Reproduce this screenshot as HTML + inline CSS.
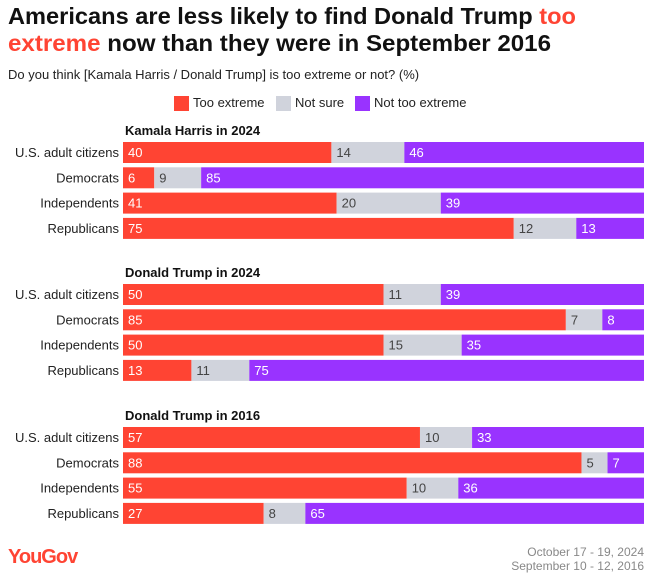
<!DOCTYPE html>
<html><head><meta charset="utf-8">
<style>
body{margin:0;background:#fff;width:653px;height:580px;overflow:hidden;font-family:"Liberation Sans",sans-serif}
</style></head>
<body>
<svg width="653" height="580" xmlns="http://www.w3.org/2000/svg" font-family="Liberation Sans, sans-serif">
<text x="8" y="24" font-size="23.5" font-weight="bold" fill="#111" textLength="568" lengthAdjust="spacingAndGlyphs">Americans are less likely to find Donald Trump <tspan fill="#ff4433">too</tspan></text>
<text x="8" y="51" font-size="23.5" font-weight="bold" fill="#111" textLength="543" lengthAdjust="spacingAndGlyphs"><tspan fill="#ff4433">extreme</tspan> now than they were in September 2016</text>
<text x="8" y="79" font-size="13" fill="#222">Do you think [Kamala Harris / Donald Trump] is too extreme or not? (%)</text>
<g>
<rect x="174" y="96" width="15" height="15" fill="#ff4433"/>
<text x="193" y="107" font-size="13" fill="#222">Too extreme</text>
<rect x="276" y="96" width="15" height="15" fill="#d0d3dc"/>
<text x="295" y="107" font-size="13" fill="#222">Not sure</text>
<rect x="355" y="96" width="15" height="15" fill="#9933ff"/>
<text x="374" y="107" font-size="13" fill="#222">Not too extreme</text>
</g>
<g id="bars"></g>
<text x="8" y="563" font-size="20" font-weight="bold" fill="#ff4433" letter-spacing="-1">YouGov</text>
<text x="644" y="556" font-size="12" fill="#888" text-anchor="end">October 17 - 19, 2024</text>
<text x="644" y="570" font-size="12" fill="#888" text-anchor="end">September 10 - 12, 2016</text>
</svg>
<script>
const groups = ["Kamala Harris in 2024","Donald Trump in 2024","Donald Trump in 2016"];
const categories = ["U.S. adult citizens","Democrats","Independents","Republicans"];
const tooExtreme = [[40,6,41,75],[50,85,50,13],[57,88,55,27]];
const notSure = [[14,9,20,12],[11,7,15,11],[10,5,10,8]];
const notTooExtreme = [[46,85,39,13],[39,8,35,75],[33,7,36,65]];
const colors = ["#ff4433","#d0d3dc","#9933ff"];
const names = ["too-extreme","not-sure","not-too-extreme"];
const NS="http://www.w3.org/2000/svg";
const g=document.getElementById('bars');
const x0=123,x1=644,groupTop=[142,284,427],pitch=25.3,bh=21;
function xs(v,tot){return v/tot*(x1-x0);}
function mk(t,a){const e=document.createElementNS(NS,t);for(const k in a)e.setAttribute(k,a[k]);g.appendChild(e);return e;}
groups.forEach((gn,gi)=>{
  const t=mk('text',{x:x0+2,y:groupTop[gi]-7,'font-size':13,'font-weight':'bold',fill:'#111'});
  t.textContent=gn;
  
  
  categories.forEach((c,ci)=>{
    const y=groupTop[gi]+ci*pitch;
    const lab=mk('text',{x:x0-4,y:y+bh/2+4.5,'font-size':13,fill:'#222','text-anchor':'end'});
    lab.textContent=c;
    
    
    const vals=[tooExtreme[gi][ci],notSure[gi][ci],notTooExtreme[gi][ci]];
    const tot=vals[0]+vals[1]+vals[2];
    let x=x0;
    vals.forEach((v,si)=>{
      const w=xs(v,tot);
      const r=mk('rect',{x:x,y:y,width:w,height:bh,fill:colors[si]});
      
      
      const vt=mk('text',{x:x+5,y:y+bh/2+4.5,'font-size':13,fill:si==1?'#444':'#fff'});
      vt.textContent=v;
      
      
      x+=w;
    });
  });
});
</script>
</body></html>
